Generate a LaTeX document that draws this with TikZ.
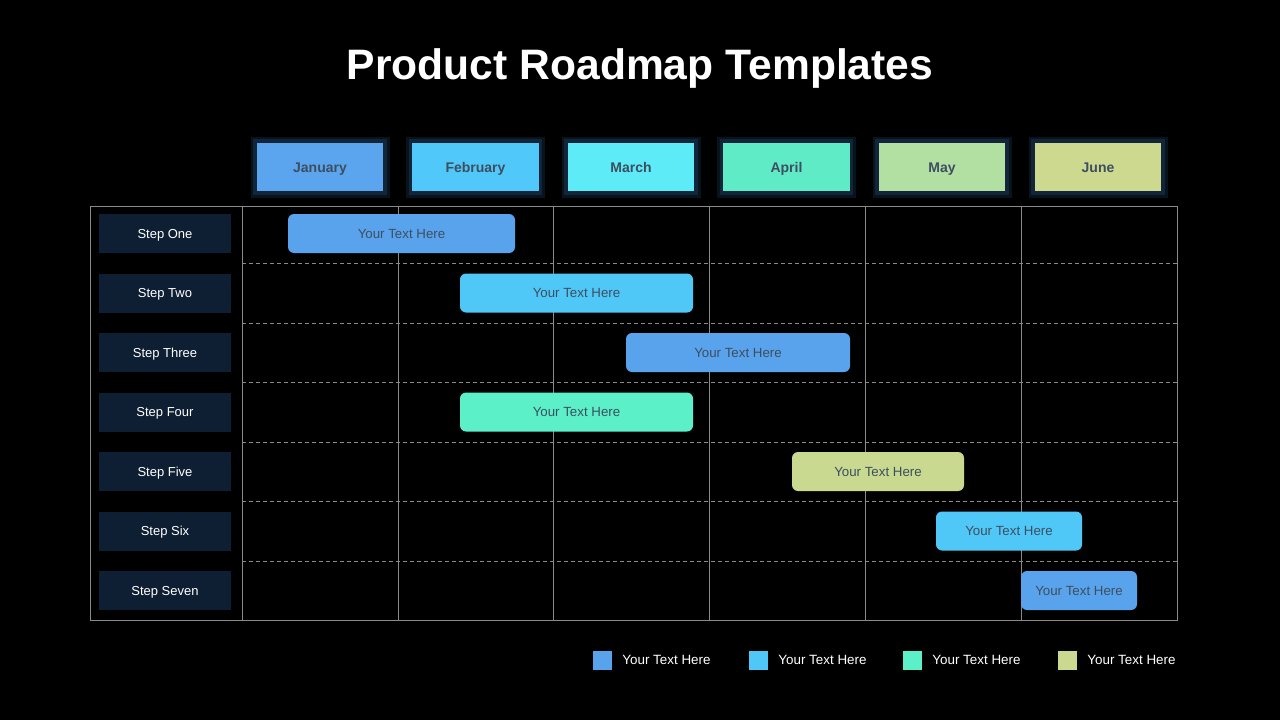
\documentclass[tikz,border=0pt]{standalone}
\usepackage{fontspec}
\setmainfont{Liberation Sans}
\usetikzlibrary{positioning}
\definecolor{Jan}{HTML}{5AA5EE}
\definecolor{Feb}{HTML}{50C8FA}
\definecolor{Mar}{HTML}{5CEBF7}
\definecolor{Apr}{HTML}{5EEBC6}
\definecolor{May}{HTML}{B2DFA2}
\definecolor{Jun}{HTML}{CCD98F}
\definecolor{BarBlue}{HTML}{58A3EC}
\definecolor{BarSky}{HTML}{4FC8F8}
\definecolor{BarAqua}{HTML}{5BF0C8}
\definecolor{BarKhaki}{HTML}{C9D98F}
\definecolor{Navy}{HTML}{0F1F33}
\definecolor{Frame}{HTML}{12253A}
\definecolor{Glow}{HTML}{2A6F9A}
\definecolor{Grid}{HTML}{8A8A8A}
\definecolor{Ink}{HTML}{3E4E60}

\begin{document}
\begin{tikzpicture}[x=1pt,y=-1pt,
  node distance=10pt,
  month/.style={draw=Frame,line width=3.5pt,minimum width=130pt,minimum height=52pt,
    inner sep=0pt,text=Ink,font=\fontsize{14}{17}\selectfont\bfseries,
    text height=10pt,text depth=0pt,
    preaction={draw=Glow,line width=9pt,opacity=.18}},
  stepbox/.style={fill=Navy,minimum width=132pt,minimum height=39pt,inner sep=0pt,
    text=white,font=\fontsize{13}{15}\selectfont,text height=9.3pt,text depth=0pt},
  bar/.style={rounded corners=6pt,minimum height=39pt,inner sep=0pt,text=Ink,
    font=\fontsize{13.3}{15}\selectfont,text height=9.5pt,text depth=0pt},
  legsq/.style={minimum size=19pt,inner sep=0pt},
  legtext/.style={text=white,inner sep=0pt,font=\fontsize{13.4}{15}\selectfont,
    text height=9.6pt,text depth=0pt},
  gridline/.style={draw=Grid,line width=1pt}]
\fill[black](0,0)rectangle(1280,720);
\useasboundingbox(0,0)rectangle(1280,720);
% title
\node[text=white,font=\fontsize{42.6}{50}\selectfont\bfseries,text height=30.5pt,text depth=0pt](title)at(640,64.5){Product Roadmap Templates};
% months
\node[month,fill=Jan](jan)at(320,167){January};
\node[month,fill=Feb](feb)at(475.5,167){February};
\node[month,fill=Mar](mar)at(631,167){March};
\node[month,fill=Apr](apr)at(786.5,167){April};
\node[month,fill=May](may)at(942,167){May};
\node[month,fill=Jun](jun)at(1098,167){June};
% grid
\draw[gridline](90,206)rectangle(1177,620);
\foreach \x in {242,398,553,709,865,1021}\draw[gridline](\x,206)--(\x,620);
\foreach \y in {263.5,323,382.5,442,501.5,561}\draw[gridline,dash pattern=on 4pt off 3pt](242,\y)--(1177,\y);
% steps
\node[stepbox](s1)at(165,233.5){Step One};
\node[stepbox](s2)at(165,293){Step Two};
\node[stepbox](s3)at(165,352.5){Step Three};
\node[stepbox](s4)at(165,412){Step Four};
\node[stepbox](s5)at(165,471.5){Step Five};
\node[stepbox](s6)at(165,531){Step Six};
\node[stepbox](s7)at(165,590.5){Step Seven};
% bars
\node[bar,fill=BarBlue,minimum width=227pt](b1)at(401.5,233.5){Your Text Here};
\node[bar,fill=BarSky,minimum width=233pt](b2)at(576.5,293){Your Text Here};
\node[bar,fill=BarBlue,minimum width=224pt](b3)at(738,352.5){Your Text Here};
\node[bar,fill=BarAqua,minimum width=233pt](b4)at(576.5,412){Your Text Here};
\node[bar,fill=BarKhaki,minimum width=172pt](b5)at(878,471.5){Your Text Here};
\node[bar,fill=BarSky,minimum width=146pt](b6)at(1009,531){Your Text Here};
\node[bar,fill=BarBlue,minimum width=116pt](b7)at(1079,590.5){Your Text Here};
% legend
\node[legsq,fill=BarBlue](l1)at(602.5,660){};
\node[legtext,right=of l1](t1){Your Text Here};
\node[legsq,fill=BarSky](l2)at(758.5,660){};
\node[legtext,right=of l2](t2){Your Text Here};
\node[legsq,fill=BarAqua](l3)at(912.5,660){};
\node[legtext,right=of l3](t3){Your Text Here};
\node[legsq,fill=BarKhaki](l4)at(1067.5,660){};
\node[legtext,right=of l4](t4){Your Text Here};
\end{tikzpicture}
\end{document}
